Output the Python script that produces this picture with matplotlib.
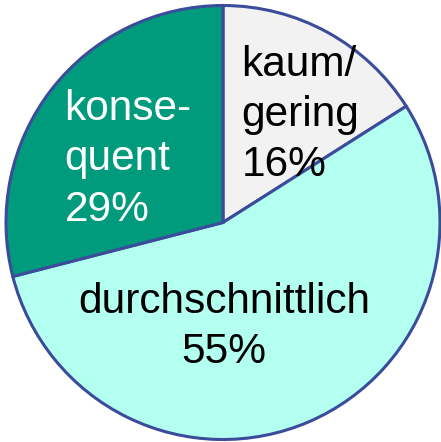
import matplotlib
matplotlib.use("Agg")
import matplotlib.pyplot as plt

# data
labels = ["kaum/\ngering", "durchschnittlich", "konse-\nquent"]
shares = [16, 55, 29]
colors = ["#f2f2f2", "#b3fff0", "#009b7d"]
text_colors = ["black", "black", "white"]

plt.rcParams["font.family"] = ["Liberation Sans", "DejaVu Sans"]

fig = plt.figure(figsize=(4.41, 4.42), dpi=100)
ax = fig.add_axes([0, 0, 1, 1])

wedges, _ = ax.pie(
    shares,
    colors=colors,
    startangle=90,
    counterclock=False,
    radius=1,
    wedgeprops=dict(edgecolor="#3b4c9b", linewidth=2.2),
)

# label placement (data coords, pie radius = 1)
label_pos = [(0.085, 0.82, "left"), (0.005, -0.272, "center"), (-0.73, 0.615, "left")]
for lab, val, tc, (x, y, ha) in zip(labels, shares, text_colors, label_pos):
    ax.text(x, y, f"{lab}\n{val}%", color=tc, fontsize=30.5, ha=ha, va="top",
            multialignment=ha, linespacing=1.33)

ax.set_xlim(-223 / 217, 218 / 217)
ax.set_ylim(-219.5 / 217, 222.5 / 217)
ax.set_aspect("equal")
ax.axis("off")

fig.savefig("out.png", dpi=100, facecolor="white")
